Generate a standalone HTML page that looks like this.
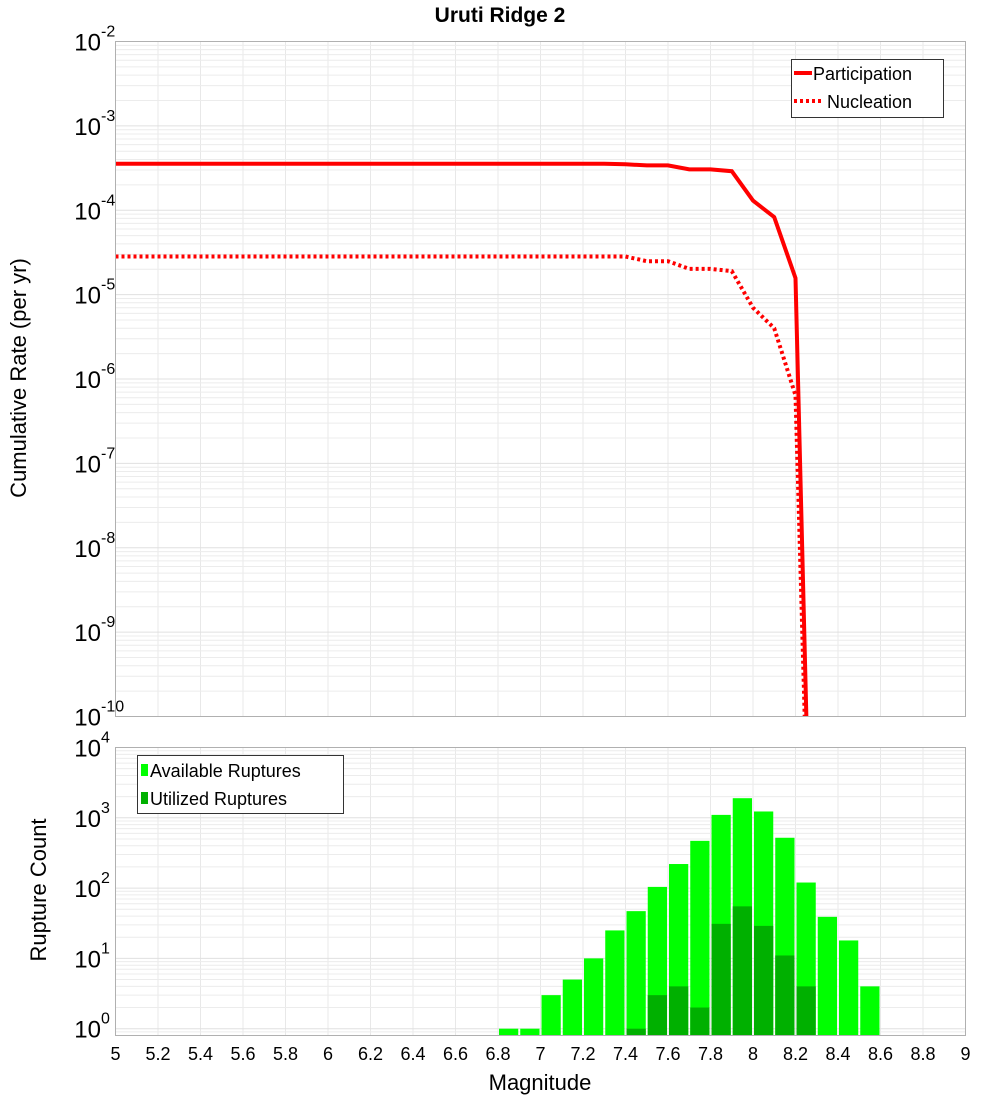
<!DOCTYPE html>
<html><head><meta charset="utf-8"><style>
body{margin:0;background:#fff;}
svg{display:block;font-family:"Liberation Sans","DejaVu Sans",sans-serif;}
</style></head><body>
<svg id="c" width="1000" height="1100" xmlns="http://www.w3.org/2000/svg"></svg>
<script>
const mags = [5.0,5.1,5.2,5.3,5.4,5.5,5.6,5.7,5.8,5.9,6.0,6.1,6.2,6.3,6.4,6.5,6.6,6.7,6.8,6.9,7.0,7.1,7.2,7.3,7.4,7.5,7.6,7.7,7.8,7.9,8.0,8.1,8.2,8.3];
const participation = [3.55e-4,3.55e-4,3.55e-4,3.55e-4,3.55e-4,3.55e-4,3.55e-4,3.55e-4,3.55e-4,3.55e-4,3.55e-4,3.55e-4,3.55e-4,3.55e-4,3.55e-4,3.55e-4,3.55e-4,3.55e-4,3.55e-4,3.55e-4,3.55e-4,3.55e-4,3.55e-4,3.55e-4,3.5e-4,3.4e-4,3.4e-4,3.05e-4,3.05e-4,2.9e-4,1.3e-4,8.3e-5,1.57e-5,1e-15];
const nucleation = [2.83e-5,2.83e-5,2.83e-5,2.83e-5,2.83e-5,2.83e-5,2.83e-5,2.83e-5,2.83e-5,2.83e-5,2.83e-5,2.83e-5,2.83e-5,2.83e-5,2.83e-5,2.83e-5,2.83e-5,2.83e-5,2.83e-5,2.83e-5,2.83e-5,2.83e-5,2.83e-5,2.83e-5,2.83e-5,2.49e-5,2.49e-5,2.02e-5,2.02e-5,1.9e-5,7e-6,4e-6,6.4e-7,1e-15];
const binMags = [6.85,6.95,7.05,7.15,7.25,7.35,7.45,7.55,7.65,7.75,7.85,7.95,8.05,8.15,8.25,8.35,8.45,8.55];
const available = [1,1,3,5,10,25,47,104,220,470,1100,1900,1230,520,120,39,18,4];
const utilized = [0,0,0,0,0,0,1,3,4,2,31,55,29,11,4,0,0,0];
const xTicks = ["5","5.2","5.4","5.6","5.8","6","6.2","6.4","6.6","6.8","7","7.2","7.4","7.6","7.8","8","8.2","8.4","8.6","8.8","9"];
const topExps = ["-2","-3","-4","-5","-6","-7","-8","-9","-10"];
const botExps = ["4","3","2","1","0"];

const NS="http://www.w3.org/2000/svg", svg=document.getElementById('c');
function mk(tag,attrs,parent){const e=document.createElementNS(NS,tag);for(const k in attrs)e.setAttribute(k,attrs[k]);(parent||svg).appendChild(e);return e;}
const X0=115.5,X1=965.5;
const xs=m=>X0+(m-5)/4*(X1-X0);
const T0=41.5,T1=716.5;
const yTop=v=>T0+(-2-Math.log10(v))/8*(T1-T0);
const B0=747.5,B1=1035.5, bMin=Math.log10(0.8), bMax=4;
const yBot=v=>B0+(bMax-Math.log10(v))/(bMax-bMin)*(B1-B0);

// clip paths
const defs=mk('defs',{});
const cp=mk('clipPath',{id:'ct'},defs);mk('rect',{x:X0,y:T0,width:X1-X0,height:T1-T0},cp);

// grids
function grid(yf,d0,d1,top,bot){
  for(let m=5;m<=9.001;m+=0.2){const x=xs(m);const l=mk('line',{x1:x,x2:x,y1:top,y2:bot,stroke:'#e8e8e8','stroke-width':1});}
  for(let d=d0;d<d1;d++){for(let k=1;k<10;k++){const y=yf(k*Math.pow(10,d));if(y<top||y>bot)continue;const l=mk('line',{x1:X0,x2:X1,y1:y,y2:y,stroke:k==1?'#e0e0e0':'#ececec','stroke-width':1});}}
}
grid(yTop,-10,-2,T0,T1);
grid(yBot,-1,4,B0,B1);

// top lines
function poly(vals,dash,name){
  const pts=mags.map((m,i)=>xs(m).toFixed(1)+','+yTop(vals[i]).toFixed(1)).join(' ');
  const p=mk('polyline',{points:pts,fill:'none',stroke:'#ff0000','stroke-width':4,'clip-path':'url(#ct)'});
  if(dash)p.setAttribute('stroke-dasharray','3,3');
  
  
}
poly(nucleation,true,'nucleation-line');
poly(participation,false,'participation-line');

// bars
const bw=(xs(5.1)-xs(5))-2;
binMags.forEach((m,i)=>{
  const x=xs(m-0.05)+1;
  const y=yBot(available[i]);
  const r=mk('rect',{x:x,y:y,width:bw,height:B1-y,fill:'#00ff00'});
  
  
  if(utilized[i]>0){const yu=yBot(utilized[i]);const u=mk('rect',{x:x,y:yu,width:bw,height:B1-yu,fill:'#00b000'});
    
    }
});

// frames
mk('rect',{x:X0,y:T0,width:X1-X0,height:T1-T0,fill:'none',stroke:'#b0b0b0','stroke-width':1,});
mk('rect',{x:X0,y:B0,width:X1-X0,height:B1-B0,fill:'none',stroke:'#b0b0b0','stroke-width':1,});

// y labels
function ylabels(exps,yf){
  exps.forEach(e=>{
    const y=yf(Math.pow(10,+e));
    const t=mk('text',{x:101,y:y+9,'text-anchor':'end','font-size':24,fill:'#000'});t.textContent='10';
    
    const s=mk('text',{x:101,y:y-5,'font-size':16,fill:'#000'});s.textContent=e;
    
  });
}
ylabels(topExps,yTop);
ylabels(botExps,yBot);

// x labels
xTicks.forEach(t=>{const x=xs(+t);const e=mk('text',{x:x,y:1060,'text-anchor':'middle','font-size':18,fill:'#000'});e.textContent=t;
  });
</script>
<svg style="position:absolute;left:0;top:0" width="1000" height="1100" xmlns="http://www.w3.org/2000/svg" font-family="Liberation Sans, DejaVu Sans, sans-serif">
<text x="500" y="22" text-anchor="middle" font-size="21" font-weight="bold">Uruti Ridge 2</text>
<text x="540" y="1090" text-anchor="middle" font-size="22">Magnitude</text>
<text transform="translate(26,378) rotate(-90)" text-anchor="middle" font-size="22">Cumulative Rate (per yr)</text>
<text transform="translate(46,890) rotate(-90)" text-anchor="middle" font-size="22">Rupture Count</text>
<g>
<rect x="791.5" y="59.5" width="152" height="58" fill="#fff" stroke="#333"/>
<line x1="794" x2="812" y1="73" y2="73" stroke="#f00" stroke-width="4"/>
<text x="813" y="80" font-size="18">Participation</text>
<line x1="794" x2="822" y1="101" y2="101" stroke="#f00" stroke-width="4" stroke-dasharray="3,3"/>
<text x="827" y="108" font-size="18">Nucleation</text>
</g>
<g>
<rect x="137.5" y="755.5" width="206" height="58" fill="#fff" stroke="#333"/>
<rect x="141" y="764" width="7" height="12" fill="#00ff00"/>
<text x="150" y="777" font-size="18">Available Ruptures</text>
<rect x="141" y="792" width="7" height="12" fill="#00b000"/>
<text x="150" y="805" font-size="18">Utilized Ruptures</text>
</g>
</svg>
</body></html>
